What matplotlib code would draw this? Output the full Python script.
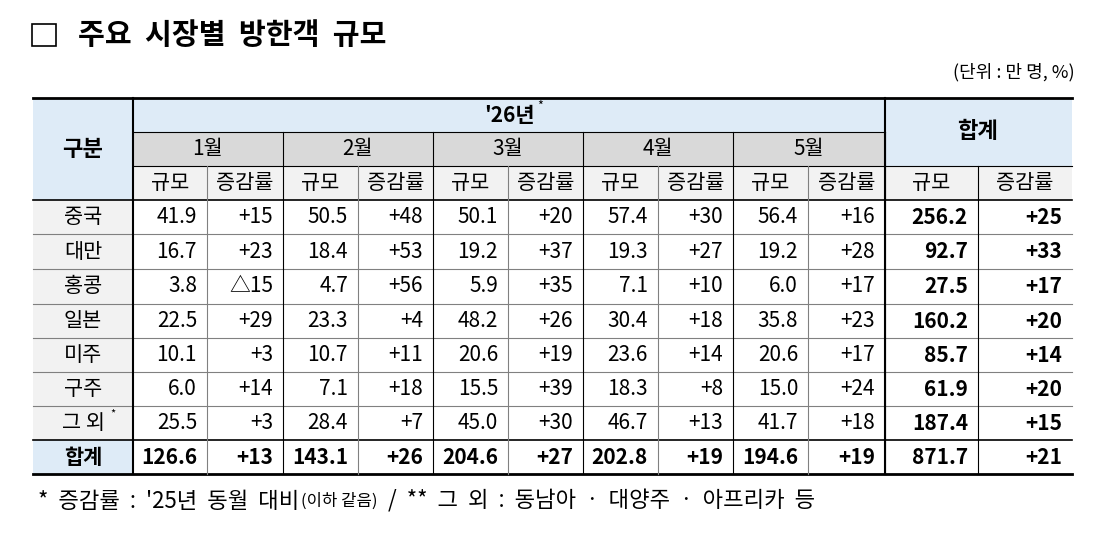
import matplotlib
matplotlib.use("Agg")
import matplotlib.pyplot as plt
from matplotlib.patches import Rectangle

plt.rcParams['font.family'] = ['Noto Sans CJK KR', 'DejaVu Sans']

title = "주요  시장별  방한객  규모"
unit = "(단위 : 만 명, %)"
year_label = "'26년"
months = ["1월", "2월", "3월", "4월", "5월"]
markets = ["중국", "대만", "홍콩", "일본", "미주", "구주", "그 외", "합계"]
size = [
    ["41.9", "50.5", "50.1", "57.4", "56.4", "256.2"],
    ["16.7", "18.4", "19.2", "19.3", "19.2", "92.7"],
    ["3.8", "4.7", "5.9", "7.1", "6.0", "27.5"],
    ["22.5", "23.3", "48.2", "30.4", "35.8", "160.2"],
    ["10.1", "10.7", "20.6", "23.6", "20.6", "85.7"],
    ["6.0", "7.1", "15.5", "18.3", "15.0", "61.9"],
    ["25.5", "28.4", "45.0", "46.7", "41.7", "187.4"],
    ["126.6", "143.1", "204.6", "202.8", "194.6", "871.7"],
]
growth = [
    ["+15", "+48", "+20", "+30", "+16", "+25"],
    ["+23", "+53", "+37", "+27", "+28", "+33"],
    ["△15", "+56", "+35", "+10", "+17", "+17"],
    ["+29", "+4", "+26", "+18", "+23", "+20"],
    ["+3", "+11", "+19", "+14", "+17", "+14"],
    ["+14", "+18", "+39", "+8", "+24", "+20"],
    ["+3", "+7", "+30", "+13", "+18", "+15"],
    ["+13", "+26", "+27", "+19", "+19", "+21"],
]
footnote = "*  증감률  :  '25년  동월  대비"
footnote2 = "(이하 같음)"
footnote3 = "  /  **  그  외  :  동남아  ·  대양주  ·  아프리카  등"

fig = plt.figure(figsize=(11.11, 5.38), dpi=100)
ax = fig.add_axes([0, 0, 1, 1])
ax.set_xlim(0, 1111); ax.set_ylim(538, 0); ax.axis('off')

BLUE = "#DEEBF7"; GREY = "#D9D9D9"; LGREY = "#F2F2F2"
xs = [33, 133, 207, 283, 358, 433, 508, 583, 658, 733, 808, 885, 978, 1072]
ys = [98, 132, 166, 200, 234, 269, 304, 338, 372, 406, 440, 474]
fs = 15

def rect(x0, y0, x1, y1, c):
    ax.add_patch(Rectangle((x0, y0), x1 - x0, y1 - y0, facecolor=c, edgecolor='none', zorder=0))

# title
ax.add_patch(Rectangle((32, 24), 24, 22, facecolor='white', edgecolor='black', lw=1.2))
ax.text(78, 35, title, fontsize=21, fontweight='bold', va='center', ha='left')
ax.text(1075, 72, unit, fontsize=13, va='center', ha='right')

# backgrounds
rect(33, 98, 133, 200, BLUE)
rect(133, 98, 885, 132, BLUE)
rect(133, 132, 885, 166, GREY)
rect(133, 166, 885, 200, LGREY)
rect(885, 98, 1072, 166, BLUE)
rect(885, 166, 1072, 200, LGREY)
rect(33, 200, 133, 440, LGREY)
rect(33, 440, 133, 474, BLUE)

# lines
lk = dict(color='black', zorder=3)
ax.plot([33, 1072], [98, 98], lw=2, **lk)
ax.plot([33, 1072], [200, 200], lw=1.2, **lk)
ax.plot([33, 1072], [440, 440], lw=1.2, **lk)
ax.plot([33, 1072], [474, 474], lw=2, **lk)
ax.plot([133, 885], [132, 132], lw=0.8, **lk)
ax.plot([133, 1072], [166, 166], lw=0.8, **lk)
for y in ys[4:10]:
    ax.plot([33, 1072], [y, y], lw=0.8, color='#808080', zorder=3)
ax.plot([133, 133], [98, 474], lw=1.5, **lk)
ax.plot([885, 885], [98, 474], lw=1.5, **lk)
for i, x in enumerate(xs[2:12]):
    top = 166 if i % 2 == 0 else 132
    ax.plot([x, x], [top, 474], lw=0.8, color='black' if i % 2 else '#808080', zorder=3)
ax.plot([978, 978], [166, 474], lw=0.8, **lk)

# header text
ax.text(83, 149, "구분", fontsize=16, fontweight='bold', ha='center', va='center')
ax.text(509, 115, year_label, fontsize=15, fontweight='bold', ha='center', va='center')
ax.text(540, 106, "*", fontsize=9, ha='center', va='center')
ax.text(978, 132, "합계", fontsize=16, fontweight='bold', ha='center', va='center')
for m, mon in enumerate(months):
    ax.text((xs[1 + 2 * m] + xs[3 + 2 * m]) / 2, 149, mon, fontsize=fs, ha='center', va='center')
for c in range(6):
    a, b, e = xs[1 + 2 * c], xs[2 + 2 * c], xs[3 + 2 * c]
    ax.text((a + b) / 2, 183, "규모", fontsize=fs, ha='center', va='center')
    ax.text((b + e) / 2, 183, "증감률", fontsize=fs, ha='center', va='center')

# data
for r, mk in enumerate(markets):
    yc = (ys[r + 3] + ys[r + 4]) / 2
    last = r == len(markets) - 1
    if mk == "그 외":
        ax.text(83, yc, mk, fontsize=fs, ha='center', va='center')
        ax.text(113, yc - 9, "*", fontsize=8, ha='center', va='center')
    else:
        ax.text(83, yc, mk, fontsize=fs, ha='center', va='center', fontweight='bold' if last else 'normal')
    for c in range(6):
        bold = last or c == 5
        ax.text(xs[2 + 2 * c] - 10, yc, size[r][c], fontsize=fs, ha='right', va='center',
                fontweight='bold' if bold else 'normal')
        ax.text(xs[3 + 2 * c] - 10, yc, growth[r][c], fontsize=fs, ha='right', va='center',
                fontweight='bold' if bold else 'normal')

# footnote
H = fig.bbox.height
t = ax.text(38, 501, footnote, fontsize=16, ha='left', va='center')
fig.canvas.draw()
bb = t.get_window_extent()
t2 = ax.text(bb.x1 + 2, H - 501, footnote2, fontsize=12, ha='left', va='center', transform=None)
fig.canvas.draw()
bb2 = t2.get_window_extent()
ax.text(bb2.x1, H - 501, footnote3, fontsize=16, ha='left', va='center', transform=None)

fig.savefig("out.png", dpi=100)
